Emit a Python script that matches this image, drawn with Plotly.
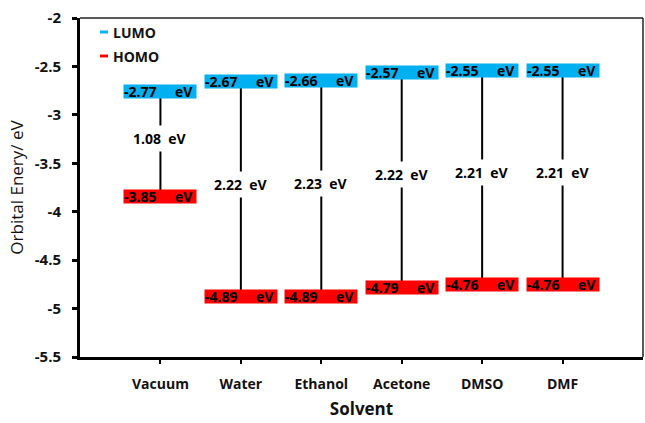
import plotly.graph_objects as go

solvents = ["Vacuum", "Water", "Ethanol", "Acetone", "DMSO", "DMF"]
lumo = [-2.77, -2.67, -2.66, -2.57, -2.55, -2.55]
homo = [-3.85, -4.89, -4.89, -4.79, -4.76, -4.76]
gap = [1.08, 2.22, 2.23, 2.22, 2.21, 2.21]
y_ticks = [-2, -2.5, -3, -3.5, -4, -4.5, -5, -5.5]
y_tick_labels = ["-2", "-2.5", "-3", "-3.5", "-4", "-4.5", "-5", "-5.5"]

BLUE = "#00B0F0"
RED = "#FF0000"
FONT = "Open Sans"

xpos = list(range(1, len(solvents) + 1))

lx, ly = [], []
for x, l, h in zip(xpos, lumo, homo):
    lx += [x, x, None]
    ly += [l, h, None]

fig = go.Figure()
fig.add_trace(go.Scatter(x=lx, y=ly, mode="lines",
                         line=dict(color="black", width=2),
                         showlegend=False, hoverinfo="skip"))

bold = dict(family=FONT, size=14, color="black", weight="bold")

for x, l, h, g in zip(xpos, lumo, homo, gap):
    for val, col in ((l, BLUE), (h, RED)):
        fig.add_annotation(x=x, y=val, xref="x", yref="y", text=f"{val:.2f}",
                           showarrow=False, width=72, height=13, align="left",
                           bgcolor=col, borderpad=0, font=bold, yshift=1)
        fig.add_annotation(x=x, y=val, xref="x", yref="y", text="eV",
                           showarrow=False, xanchor="right", xshift=35,
                           font=bold, yshift=1)
    fig.add_annotation(x=x, y=(l + h) / 2, xref="x", yref="y",
                       text=f"{g:.2f}&nbsp;&nbsp;eV", showarrow=False,
                       bgcolor="white", borderpad=3, yshift=6, font=bold)

# legend
for name, col, ypx in (("LUMO", BLUE, 32), ("HOMO", RED, 56)):
    yp = 1 - (ypx - 18) / 339
    fig.add_shape(type="line", xref="paper", yref="paper",
                  x0=(100 - 80) / 563, x1=(108 - 80) / 563, y0=yp, y1=yp,
                  line=dict(color=col, width=3))
    fig.add_annotation(xref="paper", yref="paper", x=(111 - 80) / 563, y=yp,
                       xanchor="left", yanchor="middle", text=name,
                       showarrow=False,
                       font=dict(family=FONT, size=14, color="#111", weight="bold"))

# thin frame top and right
fig.add_shape(type="line", xref="paper", yref="paper", x0=0, x1=1, y0=1, y1=1,
              line=dict(color="#222", width=1.5))
fig.add_shape(type="line", xref="paper", yref="paper", x0=1, x1=1, y0=0, y1=1,
              line=dict(color="#222", width=1.5))

fig.update_layout(
    width=645, height=423,
    margin=dict(l=80, r=2, t=18, b=66),
    paper_bgcolor="white", plot_bgcolor="white",
    showlegend=False,
    font=dict(family=FONT, color="black"),
)
fig.update_xaxes(range=[0, 7], tickvals=xpos, ticktext=solvents,
                 showgrid=False, zeroline=False,
                 showline=True, linecolor="black", linewidth=3,
                 ticks="outside", ticklen=4, tickwidth=2, tickcolor="black",
                 ticklabelstandoff=8,
                 tickfont=dict(family=FONT, size=14, color="#111", weight="bold"),
                 title=dict(text="Solvent", standoff=12,
                            font=dict(family=FONT, size=17, color="#111", weight="bold")))
fig.update_yaxes(range=[-5.5, -2], tickvals=y_ticks, ticktext=y_tick_labels,
                 showgrid=False, zeroline=False,
                 showline=True, linecolor="black", linewidth=3,
                 ticks="outside", ticklen=5, tickwidth=2.5, tickcolor="black",
                 ticklabelstandoff=8,
                 tickfont=dict(family=FONT, size=15, color="#111", weight="bold"),
                 title=dict(text="Orbital Enery/ eV", standoff=7,
                            font=dict(family=FONT, size=17, color="#111")))

fig.write_html("out.html", config={"displayModeBar": False},
               post_script="document.body.style.margin='0';")
